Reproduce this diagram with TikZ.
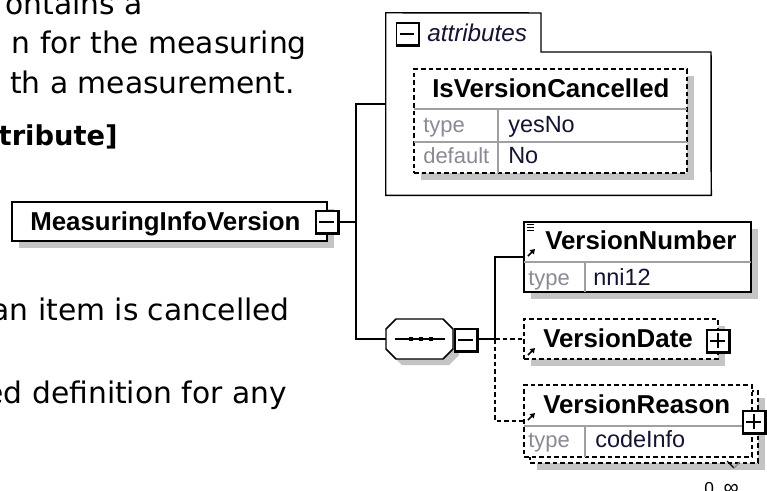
\documentclass[tikz,border=0pt]{standalone}
\usepackage{fontspec}
\setmainfont{Liberation Sans}
\newfontfamily\dvs{DejaVu Sans}
\usetikzlibrary{fit,shadows,arrows.meta}
\definecolor{shgray}{HTML}{C4C4C4}
\definecolor{lblgray}{HTML}{8A8A96}
\definecolor{divgray}{HTML}{A0A0A0}
\definecolor{valcol}{HTML}{141432}
\begin{document}
\begin{tikzpicture}[x=0.75pt,y=-0.75pt,
  box/.style={draw, line width=1.1pt, fill=white, inner sep=0pt},
  dbox/.style={box, dash pattern=on 3.5pt off 2.2pt},
  sh/.style={general shadow={fill=shgray, shadow xshift=5.25pt, shadow yshift=-5.25pt}},
  elname/.style={anchor=base west, inner sep=0pt, font=\fontsize{19.4}{20}\selectfont\bfseries},
  lbl/.style={anchor=base west, inner sep=0pt, text=lblgray, font=\fontsize{16.5}{18}\selectfont},
  val/.style={anchor=base west, inner sep=0pt, text=valcol, font=\fontsize{17.6}{19}\selectfont},
  desc/.style={anchor=base east, inner sep=0pt, font=\dvs\fontsize{22.3}{25}\selectfont},
  toggle/.style={draw, fill=white, line width=0.8pt, minimum size=16.5pt, inner sep=0pt},
  conn/.style={line width=1pt},
  dconn/.style={conn, dash pattern=on 3.5pt off 2.2pt},
  divl/.style={draw=divgray, line width=0.8pt},
  refarrow/.style={line width=1.3pt, -{Triangle[length=3.5pt,width=4.2pt]}},
]
\fill[white] (0,0) rectangle (767,490);
\useasboundingbox (0,0) rectangle (767,490);

% left description text (cut off)
\node[desc] (d1) at (143,14) {ontains a};
\node[desc] (d2) at (307,53) {n for the measuring};
\node[desc] (d3) at (295,93) {th a measurement.};
\node[desc, font=\dvs\fontsize{20.5}{24}\selectfont\bfseries] (d4) at (118,145) {tribute]};
\node[desc] (d5) at (290,320) {an item is cancelled};
\node[desc] (d6) at (287,403) {ed definition for any};

% attributes group
\node[inner sep=0pt, fit={(386,13) (711,195)}] (attr) {};
\draw[line width=1.1pt] (attr.north west) -- (541,13) -- (541,52) -- (711,52) -- (attr.south east) -- (attr.south west) -- cycle;
\node[toggle] (t0) at (407.5,34) {};
\node[anchor=base west, inner sep=0pt, font=\fontsize{18.2}{20}\selectfont\itshape, text=valcol] (attrlbl) at (427,41) {attributes};

% IsVersionCancelled
\node[dbox, sh, fit={(414,69) (687,173)}] (ivc) {};
\draw[divl] (414,109) -- (687,109);
\draw[divl] (414,142) -- (687,142);
\draw[divl] (498,109) -- (498,173);
\node[elname] (ivcn) at (432,97) {IsVersionCancelled};
\node[lbl] (ivct) at (423,132) {type};
\node[val] (ivcv) at (508,132) {yesNo};
\node[lbl] (ivcd) at (423,163) {default};
\node[val] (ivcdv) at (508,163) {No};

% root element
\node[box, sh, fit={(12,202) (327,241)}] (root) {};
\node[elname] (rootn) at (30,230) {MeasuringInfoVersion};
\node[toggle] (t1) at (327,222) {};

% sequence compositor
\node[inner sep=0pt, fit={(386,319) (453,359)}] (seq) {};
\fill[shgray] (402,325) -- (449,325) -- (459,335) -- (459,355) -- (449,365) -- (402,365) -- (392,355) -- (392,335) -- cycle;
\draw[line width=1.1pt, fill=white] (396,319) -- (443,319) -- (453,329) -- (453,349) -- (443,359) -- (396,359) -- (386,349) -- (386,329) -- cycle;
\draw[line width=1pt] (395,339) -- (445,339);
\foreach \dx in {411,421,431} { \fill (\dx-2,337) rectangle (\dx+2,341); }
\node[toggle] (t2) at (466,340) {};

% children
\node[box, sh, fit={(524,222) (751,292)}] (vn) {};
\draw[divl] (524,262) -- (751,262);
\draw[divl] (585,262) -- (585,292);
\node[elname] (vnn) at (545,249) {VersionNumber};
\node[lbl] (vnt) at (528,285) {type};
\node[val] (vnv) at (593,285) {nni12};
\foreach \yy in {224.5,227.5,230.5} { \draw[line width=0.9pt] (527,\yy) -- (534,\yy); }
\draw[refarrow] (528,256) -- (535,249);

\node[dbox, sh, fit={(524,319) (718,359)}] (vd) {};
\node[elname] (vdn) at (543,347) {VersionDate};
\draw[refarrow] (528,355) -- (535,348);
\node[toggle] (t3) at (718,341) {};

\node[dbox, sh, fit={(530,391) (758,463)}] (vrb) {};
\node[dbox, fit={(524,385) (752,457)}] (vr) {};
\draw[divl] (524,426) -- (752,426);
\draw[divl] (585,426) -- (585,457);
\node[elname] (vrn) at (543,413) {VersionReason};
\node[lbl] (vrt) at (528,447) {type};
\node[val] (vrv) at (595,447) {codeInfo};
\draw[refarrow] (528,420) -- (535,413);
\node[toggle] (t4) at (754,422) {};
\draw[line width=0.9pt] (727,461) -- (734,468);
\draw[line width=0.9pt, shgray!70!black] (734,468) -- (740,462);
\node[anchor=base west, inner sep=0pt, font=\fontsize{13}{14}\selectfont] (mult) at (704,494) {0..{\fontsize{16}{16}\selectfont∞}};

% toggle decorations
\foreach \t in {t0,t1,t2,t3,t4} {
  \draw[line width=1.6pt] (\t.north east) -- (\t.south east) -- (\t.south west);
  \draw[line width=0.9pt] ([xshift=3pt]\t.west) -- ([xshift=-3.5pt]\t.east);
}
\foreach \t in {t3,t4} {
  \draw[line width=0.9pt] ([yshift=-3pt]\t.north) -- ([yshift=3.5pt]\t.south);
}

% connectors
\coordinate (hub) at (356,222);
\coordinate (b) at (495,339);
\draw[conn] (t1.east) -- (hub);
\draw[conn] (attr.west) -| (hub) |- (seq.west);
\draw[conn] (t2.east |- b) -- (b) |- (vn.west);
\draw[dconn] (b) -- (vd.west);
\draw[dconn] (b) |- (vr.west);
\end{tikzpicture}
\end{document}
